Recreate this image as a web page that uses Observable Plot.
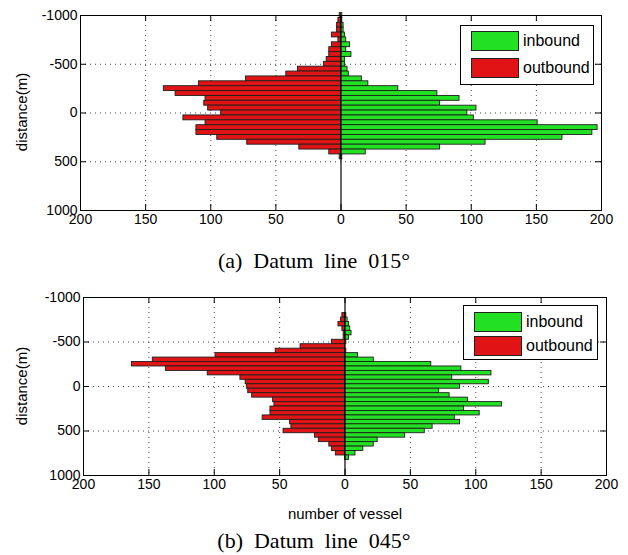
<!DOCTYPE html>
<html><head><meta charset="utf-8">
<script src="https://cdn.jsdelivr.net/npm/d3@7"></script>
<script src="https://cdn.jsdelivr.net/npm/@observablehq/plot@0.6"></script>
<style>
body{margin:0;background:#fff;}
#wrap{position:relative;width:628px;height:555px;overflow:hidden;background:#fff;}
.panel{position:absolute;left:0;}
.legend{position:absolute;background:#fff;border:1px solid #000;box-sizing:border-box;font-family:"Liberation Sans",Arial,sans-serif;font-size:16px;color:#000;}
.sw{position:absolute;width:48px;height:20px;border:1px solid #222;box-sizing:border-box;}
.lt{position:absolute;line-height:20px;white-space:nowrap;}
.cap{position:absolute;left:0;width:628px;text-align:center;font-family:"Liberation Serif","Times New Roman",serif;font-size:22px;line-height:24px;white-space:pre;color:#000;}
.alab{position:absolute;font-family:"Liberation Sans",Arial,sans-serif;font-size:15px;line-height:16px;white-space:nowrap;color:#000;transform:translate(-50%,-50%);}
.rot{transform:translate(-50%,-50%) rotate(-90deg);}
</style></head>
<body>
<div id="wrap"></div>
<script>
// bin centres (m)
const centers = [-1000,-950,-900,-850,-800,-750,-700,-650,-600,-550,-500,-450,-400,-350,-300,-250,-200,-150,-100,-50,0,50,100,150,200,250,300,350,400,450,500,550,600,650,700,750,800,850,900,950,1000];
// (a) Datum line 015°
const outboundA = [1,2,3,3,7,2,7,9,9,11,13,33,42,73,109,136,127,104,105,102,92,121,104,111,111,95,72,32,9,1,0,0,0,0,0,0,0,0,0,0,0];
const inboundA  = [1,1,2,2,3,4,7,4,8,3,3,5,6,16,21,44,74,91,76,104,97,102,151,197,193,170,111,76,19,1,0,0,0,0,0,0,0,0,0,0,0];
// (b) Datum line 045°
const outboundB = [0,0,0,0,2,3,5,2,1,1,10,34,53,99,147,163,137,105,80,76,75,74,71,55,54,57,57,63,42,41,47,23,20,12,10,7,0,0,0,0,0];
const inboundB  = [0,0,0,0,1,2,3,4,5,3,1,0,1,10,22,66,89,112,82,110,88,72,80,94,120,91,103,84,88,67,61,46,25,22,14,8,3,0,0,0,0];
const binWidth = 50;
const xTicks = [-200,-150,-100,-50,0,50,100,150,200];
const yTicks = [-1000,-500,0,500,1000];
const gridX = [-150,-100,-50,50,100,150];
const gridY = [-500,0,500];
const seriesNames = ["inbound","outbound"];
const seriesColors = ["#22e022","#e01414"];
const captions = ["(a)  Datum  line  015°","(b)  Datum  line  045°"];
const yLabel = "distance(m)";
const xLabel = "number of vessel";

const FONT = '"Liberation Sans",Arial,sans-serif';

function panel({inb, outb, width, height, ml, mr, mt, mb}) {
  const rows = [];
  centers.forEach((c, i) => {
    if (outb[i] > 0) rows.push({c, v: -outb[i], s: seriesNames[1]});
    if (inb[i] > 0) rows.push({c, v: inb[i], s: seriesNames[0]});
  });
  const fh = height - mt - mb, fw = width - ml - mr, tl = 6;
  return Plot.plot({
    width, height, marginLeft: ml, marginRight: mr, marginTop: mt, marginBottom: mb,
    style: {fontFamily: FONT, fontSize: "14px", color: "#000", background: "transparent", overflow: "visible"},
    x: {domain: [-200, 200]},
    y: {domain: [-1000, 1000], reverse: true},
    color: {domain: seriesNames, range: seriesColors},
    marks: [
      Plot.ruleX(gridX, {x: d => d, stroke: "#444", strokeDasharray: "1,4", strokeWidth: 1}),
      Plot.ruleY(gridY, {y: d => d, stroke: "#444", strokeDasharray: "1,4", strokeWidth: 1}),
      Plot.rect(rows, {x1: 0, x2: "v", y1: d => d.c - binWidth / 2, y2: d => d.c + binWidth / 2, fill: "s", stroke: "#1e1e1e", strokeWidth: 0.9}),
      Plot.ruleX([0], {x: d => d, stroke: "#000", strokeWidth: 1.2}),
      Plot.frame({stroke: "#000", strokeWidth: 1}),
      Plot.ruleX(xTicks, {x: d => d, insetTop: fh - tl, stroke: "#000"}),
      Plot.ruleX(xTicks, {x: d => d, insetBottom: fh - tl, stroke: "#000"}),
      Plot.ruleY(yTicks, {y: d => d, insetRight: fw - tl, stroke: "#000"}),
      Plot.ruleY(yTicks, {y: d => d, insetLeft: fw - tl, stroke: "#000"}),
      Plot.axisX({ticks: xTicks, tickSize: 0, tickPadding: 4, tickFormat: d => String(Math.abs(d)), label: null}),
      Plot.axisY({ticks: yTicks, tickSize: 0, tickPadding: 3, tickFormat: d => String(d), label: null})
    ]
  });
}

const wrap = document.getElementById("wrap");
function place(el, top) { el.classList.add("panel"); el.style.top = top + "px"; wrap.appendChild(el); }

place(panel({inb: inboundA, outb: outboundA, width: 628, height: 240, ml: 80, mr: 27, mt: 15, mb: 30}), 0);
place(panel({inb: inboundB, outb: outboundB, width: 628, height: 240, ml: 83, mr: 22, mt: 15, mb: 47}), 282);

function label(text, x, y, rotate) {
  const d = document.createElement("div");
  d.className = "alab" + (rotate ? " rot" : "");
  d.textContent = text;
  Object.assign(d.style, {left: x + "px", top: y + "px"});
  wrap.appendChild(d);
}
label(yLabel, 22, 112, true);
label(yLabel, 22, 386, true);
label(xLabel, 345, 514, false);

function legend(left, top, w, h, swTop1, swTop2) {
  const d = document.createElement("div");
  d.className = "legend";
  Object.assign(d.style, {left: left + "px", top: top + "px", width: w + "px", height: h + "px"});
  [swTop1, swTop2].forEach((t, i) => {
    const s = document.createElement("div");
    s.className = "sw";
    Object.assign(s.style, {left: "10px", top: t + "px", background: seriesColors[i]});
    d.appendChild(s);
    const l = document.createElement("div");
    l.className = "lt";
    l.textContent = seriesNames[i];
    Object.assign(l.style, {left: "62px", top: t + "px"});
    d.appendChild(l);
  });
  wrap.appendChild(d);
}
legend(460, 25, 134, 60, 5, 32);
legend(463, 305, 135, 55, 6, 30);

captions.forEach((t, i) => {
  const c = document.createElement("div");
  c.className = "cap";
  c.textContent = t;
  c.style.top = (i === 0 ? 249 : 529) + "px";
  wrap.appendChild(c);
});
</script>
</body></html>
